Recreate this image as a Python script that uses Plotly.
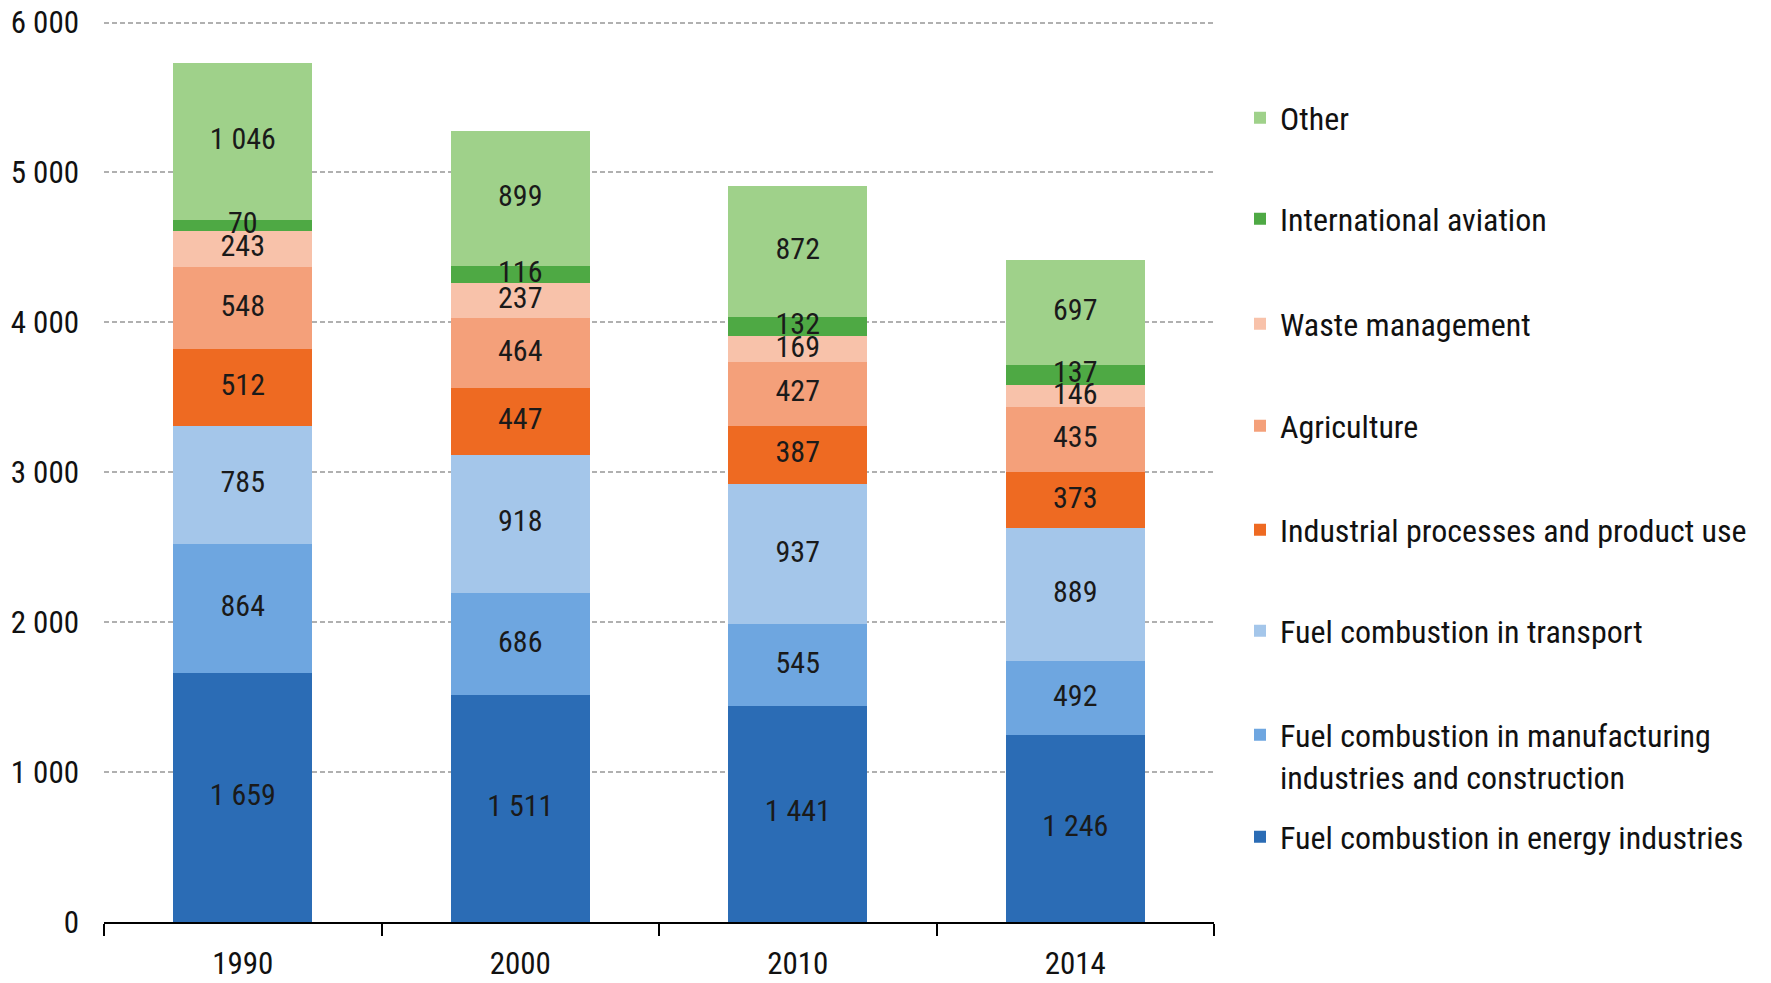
import plotly.graph_objects as go

years = ["1990", "2000", "2010", "2014"]
energy = [1659, 1511, 1441, 1246]
manufacturing = [864, 686, 545, 492]
transport = [785, 918, 937, 889]
industrial = [512, 447, 387, 373]
agriculture = [548, 464, 427, 435]
waste = [243, 237, 169, 146]
aviation = [70, 116, 132, 137]
other = [1046, 899, 872, 697]

series = [
    ("Fuel combustion in energy industries", energy, "#2b6cb5"),
    ("Fuel combustion in manufacturing<br>industries and construction", manufacturing, "#6ea6e0"),
    ("Fuel combustion in transport", transport, "#a4c6ea"),
    ("Industrial processes and product use", industrial, "#ee6a22"),
    ("Agriculture", agriculture, "#f4a07a"),
    ("Waste management", waste, "#f8c2aa"),
    ("International aviation", aviation, "#4ea944"),
    ("Other", other, "#9fd18a"),
]

# legend entry vertical centres (pixels from top of the figure)
legend_y_px = [829, 748, 623, 522, 418, 316, 211, 110]

FONT = "Liberation Sans Narrow, Arial Narrow, Roboto Condensed, DejaVu Sans Condensed, sans-serif"
# page body has an 8px margin, so the figure is drawn 8px smaller to fit the window
W, H = 1763, 975

fig = go.Figure()
layout_legends = {}
for i, (name, vals, col) in enumerate(series):
    lname = "legend" if i == 0 else f"legend{i+1}"
    fig.add_trace(go.Bar(
        x=years, y=vals, name=name,
        marker=dict(color=col, line=dict(width=0)),
        legend=lname, hoverinfo="name+y",
    ))
    layout_legends[lname] = dict(
        xref="container", yref="container",
        x=1232 / W, y=1 - legend_y_px[i] / H,
        xanchor="left", yanchor="middle",
        font=dict(size=32, family=FONT, color="#111111"),
        bgcolor="rgba(0,0,0,0)", valign="top",
    )

# value labels, drawn above all bars, centred in each segment
base = [0] * len(years)
for i, (name, vals, col) in enumerate(series):
    mids = [b + v / 2 for b, v in zip(base, vals)]
    base = [b + v for b, v in zip(base, vals)]
    fig.add_trace(go.Scatter(
        x=years, y=mids, mode="text",
        text=[f"{v:,}".replace(",", " ") for v in vals],
        textposition="middle center",
        textfont=dict(size=30, family=FONT, color="#1a1a1a"),
        showlegend=False, hoverinfo="skip",
    ))

fig.update_layout(
    barmode="stack",
    bargap=0.5,
    width=W, height=H,
    margin=dict(l=96, r=557, t=10, b=61, autoexpand=False),
    paper_bgcolor="white", plot_bgcolor="white",
    separators=". ",
    font=dict(family=FONT, size=30, color="#111111"),
    showlegend=True,
    **layout_legends,
)

fig.update_xaxes(
    type="category", showline=True, linecolor="black", linewidth=2,
    ticks="outside", tickson="boundaries", ticklen=12, tickwidth=2, tickcolor="black",
    showgrid=False, automargin=False, ticklabelstandoff=13, ticklabeloverflow="allow",
    tickfont=dict(size=31, family=FONT, color="#111111"),
)
fig.update_yaxes(
    range=[0, 6030], tickvals=[0, 1000, 2000, 3000, 4000, 5000, 6000], tickformat=",",
    showline=False, zeroline=False, automargin=False, ticklabeloverflow="allow",
    showgrid=True, gridcolor="#b0b0b0", griddash="5px,3px", gridwidth=1.5,
    ticks="", ticklabelstandoff=24, tickfont=dict(size=31, family=FONT, color="#111111"),
)

fig.write_html("out.html")
